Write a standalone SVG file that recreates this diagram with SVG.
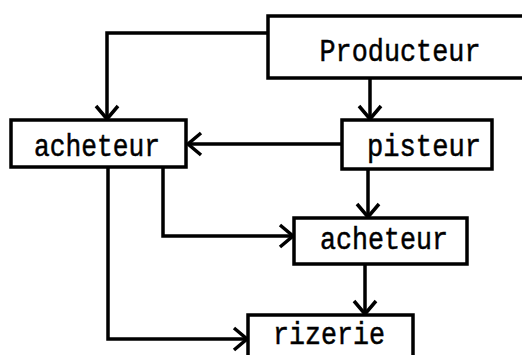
<svg xmlns="http://www.w3.org/2000/svg" width="522" height="355" viewBox="0 0 522 355">
  <style>
    .box { fill: #ffffff; stroke: #000000; stroke-width: 3.5; }
    .lbl { font-family: "Liberation Mono", "DejaVu Sans Mono", monospace; font-size: 31px; fill: #000000; stroke: #000000; stroke-width: 0.5; text-anchor: middle; }
    .wire { fill: none; stroke: #000000; stroke-width: 3.5; stroke-linejoin: miter; }
  </style>
  <defs>
    <marker id="head" markerUnits="userSpaceOnUse" markerWidth="30" markerHeight="30" viewBox="-16 -15 20 30" refX="0" refY="0" orient="auto">
      <path d="M-13,-11 L0,0 L-13,11" fill="none" stroke="#000000" stroke-width="3.5"/>
    </marker>
  </defs>
  <rect width="522" height="355" fill="#ffffff"/>

  <g id="connectors">
    <!-- Producteur to first acheteur -->
    <path class="wire" d="M268,33 H107 V119" marker-end="url(#head)"/>
    <!-- Producteur to pisteur -->
    <path class="wire" d="M370,78 V119" marker-end="url(#head)"/>
    <!-- pisteur to first acheteur -->
    <path class="wire" d="M342,144 H188" marker-end="url(#head)"/>
    <!-- pisteur to second acheteur -->
    <path class="wire" d="M368,169 V217" marker-end="url(#head)"/>
    <!-- first acheteur to second acheteur -->
    <path class="wire" d="M163,168 V236 H293" marker-end="url(#head)"/>
    <!-- first acheteur to rizerie -->
    <path class="wire" d="M108,168 V339 H247" marker-end="url(#head)"/>
    <!-- second acheteur to rizerie -->
    <path class="wire" d="M365,264 V314" marker-end="url(#head)"/>
  </g>

  <g id="producteur">
    <rect class="box" x="268" y="16" width="256" height="62"/>
    <text class="lbl" x="400" y="61" textLength="161" lengthAdjust="spacingAndGlyphs">Producteur</text>
  </g>
  <g id="acheteur-1">
    <rect class="box" x="11" y="120" width="175" height="47"/>
    <text class="lbl" x="97" y="156" textLength="126" lengthAdjust="spacingAndGlyphs">acheteur</text>
  </g>
  <g id="pisteur">
    <rect class="box" x="342" y="120" width="150" height="49"/>
    <text class="lbl" x="424" y="156" textLength="114" lengthAdjust="spacingAndGlyphs">pisteur</text>
  </g>
  <g id="acheteur-2">
    <rect class="box" x="294" y="218" width="173" height="46"/>
    <text class="lbl" x="384" y="249" textLength="128" lengthAdjust="spacingAndGlyphs">acheteur</text>
  </g>
  <g id="rizerie">
    <rect class="box" x="248" y="315" width="165" height="50"/>
    <text class="lbl" x="329" y="344" textLength="112" lengthAdjust="spacingAndGlyphs">rizerie</text>
  </g>
</svg>
